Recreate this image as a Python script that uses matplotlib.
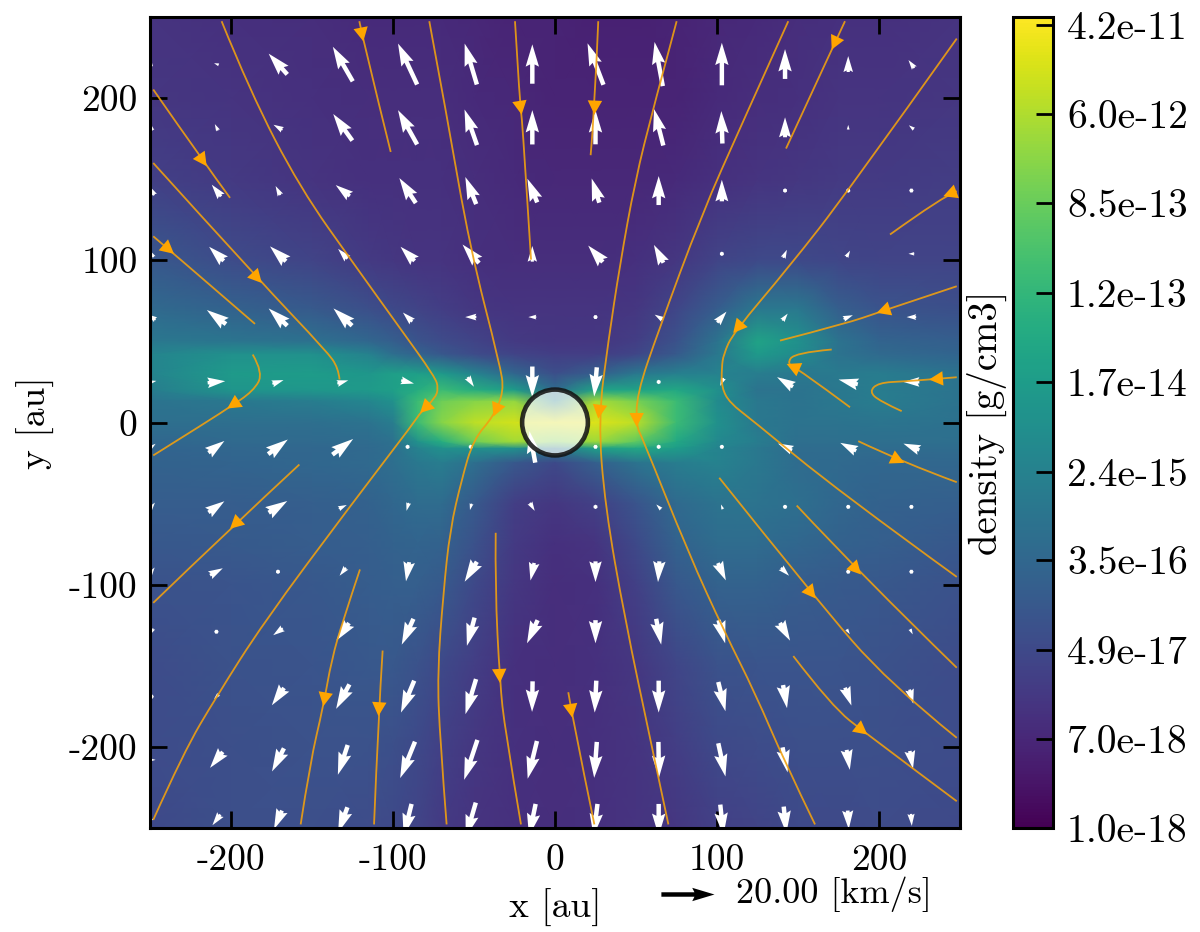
import numpy as np
import matplotlib
matplotlib.use("Agg")
import matplotlib.pyplot as plt
from matplotlib.colors import LogNorm
from matplotlib.patches import Circle, FancyArrowPatch, PathPatch
from matplotlib.path import Path

plt.rcParams['font.family'] = ['cmr10', 'DejaVu Serif']
plt.rcParams['axes.unicode_minus'] = False
plt.rcParams['axes.formatter.use_mathtext'] = True

# ---- density field: position on the colour range in percent
grid_x = [-250, -200, -150, -115, -100, -85, -70, -50, -25, 0, 25, 50, 75, 100, 125, 150, 175, 200, 250]
grid_y = [250, 200, 150, 100, 70, 50, 42, 30, 20, 13, 0, -12, -16, -25, -50, -75, -100, -150, -200, -250]
density_pct = [
    [15, 14, 13, 12, 12, 12, 12, 11, 10, 10, 9, 9, 10, 11, 12, 13, 14, 14, 15],
    [16, 15, 14, 13, 13, 13, 13, 12, 11, 10, 10, 10, 10, 12, 13, 14, 15, 15, 16],
    [19, 17, 15, 14, 14, 14, 14, 13, 12, 11, 11, 11, 12, 14, 15, 16, 17, 17, 18],
    [27, 23, 20, 17, 16, 15, 15, 14, 13, 13, 13, 14, 16, 20, 22, 22, 21, 20, 20],
    [34, 31, 28, 24, 22, 20, 18, 16, 15, 15, 15, 16, 21, 29, 40, 40, 30, 26, 24],
    [40, 39, 37, 33, 30, 26, 23, 20, 17, 16, 16, 18, 25, 38, 58, 50, 38, 32, 30],
    [45, 50, 50, 44, 36, 32, 27, 23, 20, 18, 18, 21, 28, 40, 54, 48, 38, 34, 32],
    [45, 54, 55, 53, 56, 56, 54, 45, 33, 24, 30, 40, 43, 44, 42, 40, 41, 42, 38],
    [42, 52, 53, 54, 56, 62, 68, 62, 55, 35, 58, 58, 60, 50, 38, 38, 40, 42, 38],
    [38, 40, 42, 46, 50, 68, 78, 82, 84, 45, 87, 80, 68, 48, 40, 38, 40, 42, 38],
    [36, 36, 36, 38, 42, 68, 82, 90, 93, 95, 95, 90, 68, 50, 40, 38, 38, 39, 37],
    [33, 34, 34, 35, 37, 50, 62, 78, 86, 80, 85, 75, 60, 47, 42, 36, 36, 36, 36],
    [32, 33, 33, 34, 36, 44, 50, 50, 50, 40, 56, 60, 55, 45, 40, 35, 35, 35, 35],
    [31, 32, 33, 34, 36, 40, 42, 36, 27, 22, 30, 38, 42, 44, 40, 35, 34, 33, 33],
    [29, 29, 30, 31, 33, 35, 35, 28, 18, 16, 19, 26, 34, 38, 38, 36, 33, 31, 30],
    [27, 28, 29, 30, 31, 32, 31, 25, 17, 14, 15, 22, 31, 35, 35, 33, 31, 30, 27],
    [25, 26, 27, 29, 30, 30, 28, 22, 16, 13, 14, 19, 27, 31, 31, 29, 28, 27, 25],
    [23, 25, 26, 27, 27, 25, 22, 18, 14, 13, 14, 16, 21, 25, 26, 26, 26, 25, 23],
    [23, 24, 25, 25, 24, 22, 19, 16, 14, 13, 14, 15, 18, 22, 23, 24, 24, 24, 23],
    [22, 24, 24, 23, 22, 20, 17, 15, 14, 13, 14, 15, 16, 19, 20, 22, 22, 23, 22],
]
rho_min, rho_max = 1.0e-18, 5.0e-11

# ---- colour bar ticks
cbar_ticks = [1.0e-18, 7.0e-18, 4.9e-17, 3.5e-16, 2.4e-15, 1.7e-14, 1.2e-13, 8.5e-13, 6.0e-12, 4.2e-11]
cbar_labels = ['1.0e-18', '7.0e-18', '4.9e-17', '3.5e-16', '2.4e-15', '1.7e-14', '1.2e-13', '8.5e-13', '6.0e-12', '4.2e-11']
axis_ticks = [-200, -100, 0, 100, 200]
axis_tick_labels = ['-200', '-100', '0', '100', '200']

# ---- velocity arrows [km/s]
vel_x = [-249, -209, -171, -131, -91, -52, -14, 25, 64, 103, 142, 181, 220]
vel_y = [221, 182, 143, 104, 65, 25, -15, -52, -92, -129, -169, -208, -245]
vel_u = [
    [0, -1.8, -7, -7.5, -7.2, -4.6, 0, -6, -3.1, 0, 0, 0, -2.2],
    [-0.6, -1.2, -3.4, -7.2, -7.2, -4.7, 0, 0, -3.5, -0.4, 0, 0, -1.9],
    [-1.8, -3.5, -1.8, -5.3, -6.2, -4.1, -3.7, -2.9, 0, 0, 0, 0.4, -0.9],
    [-1.4, -5.5, -6, -3.5, -5.3, -6.2, 0, -5.5, -3.6, 0, 1.4, 1.4, -2.2],
    [-3, -7.2, -7, -7, -3.5, -4.2, -3, -1.2, -3, 3.5, 2, 3.5, -3.6],
    [3.6, 6.6, 4.2, 4.1, 4.8, 2.4, 0, -1, 1.2, -1.2, -6, -7.2, -6],
    [3, 6, 7.4, 7.8, 1.2, 0.6, -2.2, -0.8, 0.6, 0.4, -5.3, -6, -6],
    [2.5, 6, 7, 3, -0.8, -0.6, 1.8, -0.8, -1.8, -0.7, 0.6, 0.4, 0.7],
    [2.3, 4.8, 1, -2.4, -1.2, -4.6, -1.4, 0, -0.5, 3, 3, 0.8, 0.4],
    [-1.2, 0.6, -3.6, -4.7, -4.4, -2.9, -4, 0, 1.9, 2.5, 3.8, 1.2, 1],
    [0.6, -1.8, -4.6, -5, -5, -4, -0.2, -0.6, 0, 2.7, 1.5, 2.4, 1.4],
    [3, -4.8, -4.5, -3.7, -5.6, -5, -3.5, -1, 0.2, 2.7, 1.9, 1.2, 1.2],
    [1.5, -3, -3, -3.5, -3, -3.8, -2.5, -1.5, 0, 1.2, 1, 0.4, 0.3],
]
vel_v = [
    [1.8, 0.6, 7.8, 13, 15.4, 15.4, 14.8, 15.6, 16.6, 16, 11.2, 6, 3],
    [2.4, 2.4, 1.9, 10, 12.9, 13.4, 12.9, 12.8, 13.7, 12.2, 7.5, 1.8, 1.5],
    [3.6, 4.4, 3.4, 4.1, 9.4, 10.2, 8.9, 9.1, 10.9, 8.1, 0.5, 0.4, 0],
    [2.6, 5.3, 5.6, 3.7, 5.3, 7, 5.9, 6.2, 6.7, 1.3, 3, 2.4, 0],
    [2, 5.3, 6.5, 6.5, 3.4, 0, 0, 0, 1.8, 4.1, 2.6, 1.4, 0],
    [0.8, 0.6, 1.4, 1.2, -1.2, -3.6, -11.6, -11, 0.6, -3, 3.6, 1.8, 0],
    [2.3, 4.4, 5.5, 5.9, 1, 0.4, 11.9, 0, 0.4, 0, 2.5, 3, 2.4],
    [3.2, 4.2, 4.4, 1.4, -3, -2.4, -3, 0.4, 1.8, 1.8, 0, 0, 0],
    [3.2, 2.6, 0.6, -3, -7.2, -7.5, -6.6, -7.8, -7.8, -6.5, -3, 0, 0],
    [-2.4, 0, -2.6, -6.5, -9.7, -10.6, -8.7, -8.7, -9.7, -8.7, -6.7, -1.8, -2],
    [0, -1.8, -6.5, -9.2, -12, -13.2, -11.5, -12, -12, -11, -8.7, -6.7, -5.3],
    [0, -6, -8.7, -11.2, -13.7, -15, -14.2, -13.5, -13.5, -12.5, -9.4, -7.5, -6.7],
    [1, -4, -7, -9.5, -12, -13, -12, -12, -12, -11.5, -10, -7, -4.5],
]
key_speed = 20.0

# ---- streamlines (in flow order), with the index of the vertex that carries the arrow tip
stream_1 = [(-205.8, 247.4), (-188.3, 204.2), (-157.4, 144.6), (-122.4, 95.3), (-97, 60), (-74, 28), (-72, 21), (-74, 15), (-83.3, 5.9),
            (-86.4, 0.8), (-126.5, -51.6), (-180, -123.5), (-208.8, -168.7), (-229.4, -203.6), (-248, -245)]
stream_2 = [(-24.7, 247.4), (-21.6, 196), (-20.6, 189.8), (-18.5, 159), (-14.8, 100.4)]
stream_3 = [(-120.8, 247.4), (-118.3, 235), (-101.4, 166.8)]
stream_4 = [(-248, 205.3), (-215, 158), (-200.6, 138.5)]
stream_5 = [(-248, 160), (-181, 86), (-141, 44), (-133.7, 33.6), (-133, 26.5)]
stream_6 = [(-248, 114.8), (-235.2, 104), (-185.2, 60.8)]
stream_7 = [(-186.6, 41.9), (-180, 30.6), (-186.2, 19.3), (-202.3, 8.6), (-212, 2.2), (-248, -20.3)]
stream_8 = [(-157.8, -25.9), (-200.6, -65.5), (-248, -111.2)]
stream_9 = [(-77.6, 247.4), (-66.9, 189.9), (-52.5, 107.6), (-34, 35.7), (-31.5, 19.3), (-38, 3.7), (-50.4, -10.5), (-57.6, -35.1),
            (-64.8, -66), (-68.9, -105), (-72.6, -154.3), (-71, -195.4), (-66.9, -247.8)]
stream_10 = [(-120.4, -90.6), (-130.7, -121.5), (-137.9, -146.1), (-143, -174.9), (-151.2, -209.8), (-157, -247.8)]
stream_11 = [(-106.4, -140.6), (-109, -181), (-111.7, -247.8)]
stream_12 = [(-36.6, -68), (-37, -101), (-34, -160.5), (-30.9, -189.3), (-21, -247.8)]
stream_13 = [(26.7, 247.4), (24.3, 189.9), (22, 164.8)]
stream_14 = [(75.1, 247.4), (60.7, 194), (49.4, 148.8), (40.1, 97.4), (32.9, 50.1), (26.7, 2.4), (30.9, -51.6), (43.2, -121.5), (59.7, -199.5), (70, -247.8)]
stream_15 = [(144, 247.4), (115.2, 183.7), (90.5, 128.2), (63.8, 56.3), (50.4, 17.2), (50.4, -2.7), (53.5, -8.4), (82.3, -80.3),
             (104.9, -129.7), (123.5, -166.7), (142, -209.8), (160.5, -247.8)]
stream_16 = [(179, 247.4), (170.8, 229.9), (142.6, 168.9)]
stream_17 = [(248, 236.7), (181, 142.6), (144, 95.3), (110, 55.2), (104, 42), (102.9, 33.7), (102.9, 21.3), (108, 12), (121.4, 1.8),
             (174.9, -42.3), (248, -95.2)]
stream_18 = [(248, 84), (198.6, 67.6), (181, 61.4), (138.9, 50.5)]
stream_19 = [(248, 142.6), (239.7, 139.5), (206.8, 115.9)]
stream_20 = [(182.1, 9.4), (150.8, 32.6), (143, 36.1), (148, 43), (170.8, 45)]
stream_21 = [(248, 27.9), (230.9, 26.5), (216, 25.4), (199.6, 24.5), (194, 19), (200.6, 13.1), (214, 7)]
stream_22 = [(187.2, -11.5), (215.6, -24.9), (248, -36.8)]
stream_23 = [(149.2, -51.2), (188.9, -93.7), (248, -151.2)]
stream_24 = [(101.4, -34.1), (160.9, -108.5), (205.8, -160.5), (248, -194.4)]
stream_25 = [(147.1, -144), (170.8, -174.9), (192.8, -192.4), (248, -233.5)]
stream_26 = [(8.2, -166.3), (10.7, -182), (24.3, -247.8)]
streams = [(stream_1, 8), (stream_2, 2), (stream_3, 1), (stream_4, 1), (stream_5, 1), (stream_6, 1), (stream_7, 3), (stream_8, 1),
           (stream_9, 5), (stream_10, 3), (stream_11, 1), (stream_12, 2), (stream_13, 1), (stream_14, 5), (stream_15, 5),
           (stream_16, 1), (stream_17, 3), (stream_18, 1), (stream_19, 1), (stream_20, 2), (stream_21, 1), (stream_22, 1),
           (stream_23, 1), (stream_24, 1), (stream_25, 2), (stream_26, 1)]


def smooth_path(pts):
    """Quadratic Bezier path that uses the traced vertices as control points."""
    verts, codes = [pts[0]], [Path.MOVETO]
    for i in range(1, len(pts) - 1):
        mid = ((pts[i][0] + pts[i + 1][0]) / 2, (pts[i][1] + pts[i + 1][1]) / 2)
        if i == len(pts) - 2:
            mid = pts[i + 1]
        verts += [pts[i], mid]
        codes += [Path.CURVE3, Path.CURVE3]
    return Path(verts, codes)


# ---- figure
fig = plt.figure(figsize=(12, 9.32), dpi=100)
ax = fig.add_axes([150 / 1200, 1 - 828 / 932, 810 / 1200, 811 / 932])
cax = fig.add_axes([1013 / 1200, 1 - 828 / 932, 40 / 1200, 811 / 932])

norm = LogNorm(rho_min, rho_max)
log_lo, log_hi = np.log10(rho_min), np.log10(rho_max)
rho = 10.0 ** (log_lo + (log_hi - log_lo) * np.array(density_pct) / 100.0)
mesh = ax.pcolormesh(grid_x, grid_y, rho, cmap='viridis', norm=norm, shading='gouraud', zorder=1, rasterized=True)

U, V = np.array(vel_u), np.array(vel_v)
X, Y = np.meshgrid(vel_x, vel_y)
q = ax.quiver(X, Y, U, V, color='white', pivot='mid', angles='xy', scale_units='xy', scale=0.61, width=0.0055, zorder=2)

for pts, tip in streams:
    ax.add_patch(PathPatch(smooth_path(pts), fc='none', ec='#f0a010', lw=1.3, alpha=0.9, zorder=3))
    p = np.array(pts[tip], float)
    prev = np.array(pts[tip - 1], float)
    d = (p - prev) / np.hypot(*(p - prev))
    ax.add_patch(FancyArrowPatch(tuple(p - 4 * d), tuple(p), arrowstyle='-|>,head_length=1.0,head_width=0.52',
                                 mutation_scale=10, color='orange', lw=0, shrinkA=0, shrinkB=0, zorder=3))

ax.add_patch(Circle((0, 0), 20.3, facecolor=(1, 1, 1, 0.7), edgecolor=(0.08, 0.08, 0.08, 0.88), lw=3.3, zorder=4))

ax.set_xlim(-250, 250)
ax.set_ylim(-250, 250)
ax.set_xticks(axis_ticks, axis_tick_labels)
ax.set_yticks(axis_ticks, axis_tick_labels)
ax.tick_params(direction='in', length=12, width=2, top=True, right=True, labelsize=27, pad=9)
ax.tick_params(axis='x', pad=11)
for s in ax.spines.values():
    s.set_linewidth(2.2)
ax.set_xlabel('x [au]', fontsize=27, labelpad=9)
ax.set_ylabel('y [au]', fontsize=27, labelpad=10)

cb = fig.colorbar(mesh, cax=cax)
cb.set_ticks(cbar_ticks)
cb.set_ticklabels(cbar_labels)
cb.ax.minorticks_off()
cb.ax.tick_params(direction='in', length=12, width=2, labelsize=28.5, pad=10, right=True, left=False)
cb.outline.set_linewidth(2.2)
cb.ax.yaxis.set_label_position('left')
cb.set_label('density [g/cm3]', fontsize=28, labelpad=4)

ax.quiverkey(q, 714 / 1200, 1 - 894 / 932, key_speed, '20.00 [km/s]', coordinates='figure', labelpos='E', color='black',
             labelsep=0.22, fontproperties={'size': 26, 'family': 'cmr10'})

fig.savefig('out.png', dpi=100)
